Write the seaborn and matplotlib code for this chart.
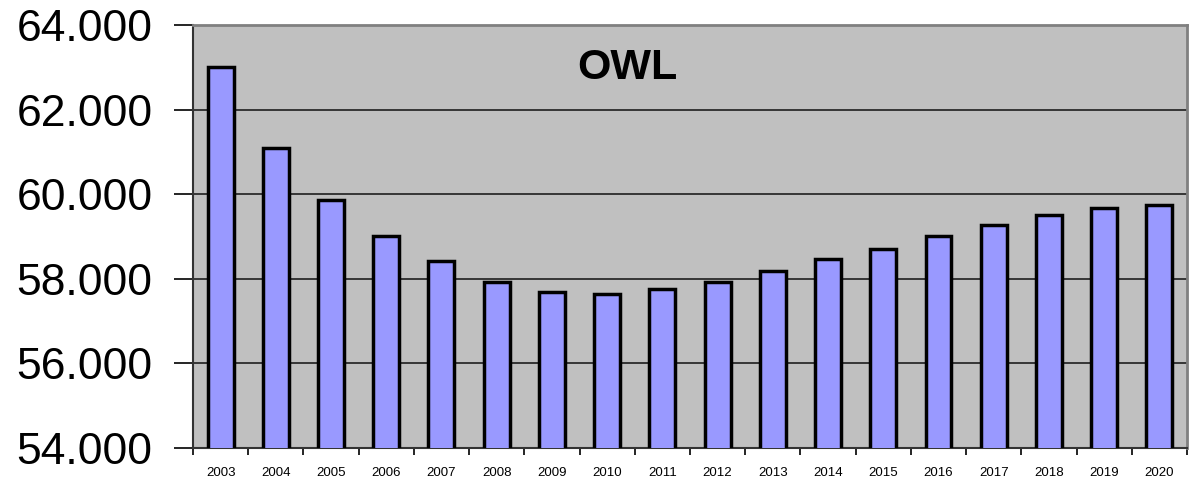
import matplotlib
matplotlib.use("Agg")
import matplotlib.pyplot as plt
from matplotlib.ticker import FuncFormatter, FixedLocator
import seaborn as sns
import pandas as pd
import numpy as np

years = ["2003", "2004", "2005", "2006", "2007", "2008", "2009", "2010", "2011",
         "2012", "2013", "2014", "2015", "2016", "2017", "2018", "2019", "2020"]
values = [63015, 61085, 59863, 59019, 58421, 57932, 57688, 57633, 57752,
          57932, 58177, 58468, 58712, 59019, 59265, 59508, 59681, 59745]
y_ticks = [54000, 56000, 58000, 60000, 62000, 64000]
title = "OWL"

sns.set_theme(style="white")
plt.rcParams["font.family"] = ["Liberation Sans", "DejaVu Sans"]
plt.rcParams["text.color"] = "black"
plt.rcParams["xtick.color"] = "black"
plt.rcParams["ytick.color"] = "black"

df = pd.DataFrame({"Jahr": years, "Wert": values})

fig = plt.figure(figsize=(11.89, 4.8), dpi=100)
ax = fig.add_axes([0.1623, 0.0667, 0.8360, 0.8812])
ax.set_facecolor("#C0C0C0")

sns.barplot(data=df, x="Jahr", y="Wert", color="#9999FF", saturation=1,
            edgecolor="black", linewidth=2.5, width=0.47, ax=ax, zorder=3)

ax.set_ylim(y_ticks[0], y_ticks[-1])
ax.set_xlim(-0.5, len(years) - 0.5)
ax.set_yticks(y_ticks)
ax.yaxis.set_major_formatter(FuncFormatter(lambda v, p: f"{v:,.0f}".replace(",", ".")))
for t in y_ticks[1:-1]:
    ax.axhline(t, color="#111111", linewidth=1.1, zorder=1)

# x labels at bar centres, tick marks at category boundaries
ax.set_xticks(np.arange(len(years)))
ax.set_xticklabels(years)
ax.xaxis.set_minor_locator(FixedLocator(np.arange(-0.5, len(years), 1.0)))
ax.tick_params(axis="x", which="major", length=0, pad=14, labelsize=9.5, labelcolor="black")
ax.tick_params(axis="x", which="minor", length=5, width=1.2, color="black", direction="out", bottom=True)
ax.tick_params(axis="y", which="major", length=14, width=1.2, color="black", direction="out",
               left=True, labelsize=32, pad=15, labelcolor="black")

ax.set_xlabel("")
ax.set_ylabel("")

for side in ["left", "bottom"]:
    ax.spines[side].set_color("#333333")
    ax.spines[side].set_linewidth(1.5)
for side in ["top", "right"]:
    ax.spines[side].set_color("#808080")
    ax.spines[side].set_linewidth(2)

ax.text(0.437, 0.898, title, transform=ax.transAxes, ha="center", va="center",
        fontsize=31, fontweight="bold", color="black")

fig.savefig("out.png", dpi=100, facecolor="white")
